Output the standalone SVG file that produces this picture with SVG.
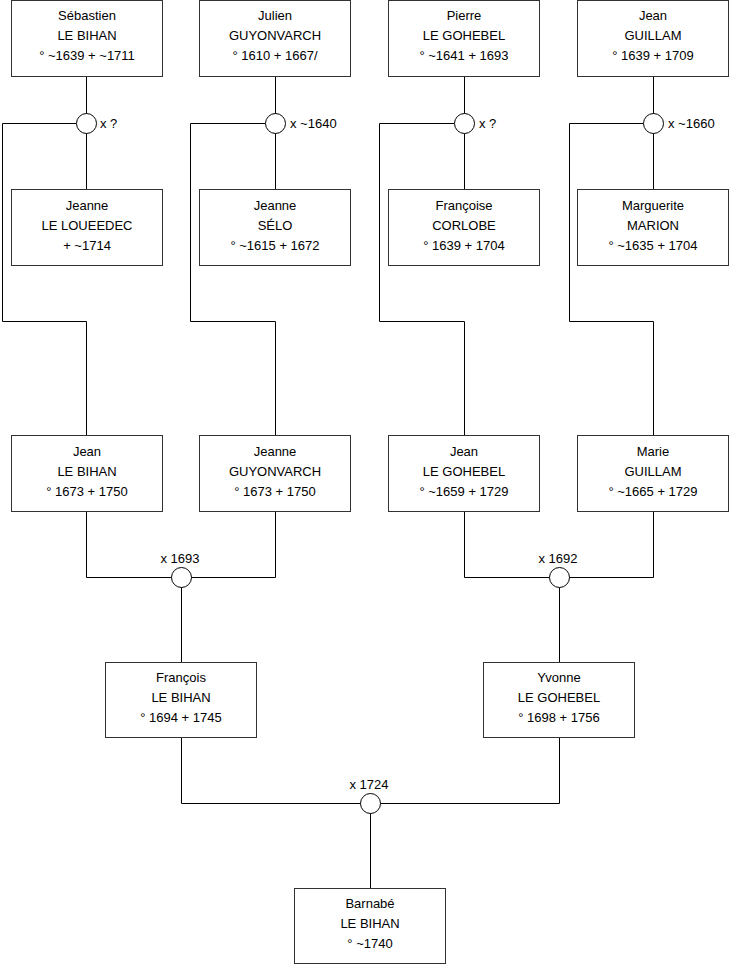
<svg xmlns="http://www.w3.org/2000/svg" width="740" height="975" viewBox="0 0 740 975">
<style>
.box{fill:#fff;stroke:#333;stroke-width:1}
.ln{fill:none;stroke:#000;stroke-width:1}
.ring{fill:#fff;stroke:#000;stroke-width:1}
text{font-family:"Liberation Sans",Arial,sans-serif;font-size:13px;fill:#000}
.c{text-anchor:middle}
</style>
<rect width="740" height="975" fill="#fff"/>
<g id="connectors">
<path class="ln" d="M86.5,76.5V189.5 M76.5,123.5H2.5V321.5H86.5V435.5"/>
<path class="ln" d="M275.5,76.5V189.5 M265.5,123.5H190.5V321.5H275.5V435.5"/>
<path class="ln" d="M464.5,76.5V189.5 M454.5,123.5H379.5V321.5H464.5V435.5"/>
<path class="ln" d="M653.5,76.5V189.5 M643.5,123.5H569.5V321.5H653.5V435.5"/>
<path class="ln" d="M86.5,511.5V577.5H275.5V511.5 M181.5,577.5V662.5"/>
<path class="ln" d="M464.5,511.5V577.5H653.5V511.5 M559.5,577.5V662.5"/>
<path class="ln" d="M181.5,737.5V803.5H559.5V737.5 M370.5,803.5V888.5"/>
<circle class="ring" cx="86.5" cy="123.5" r="10"/>
<circle class="ring" cx="275.5" cy="123.5" r="10"/>
<circle class="ring" cx="464.5" cy="123.5" r="10"/>
<circle class="ring" cx="653.5" cy="123.5" r="10"/>
<circle class="ring" cx="181.5" cy="577.5" r="10"/>
<circle class="ring" cx="559.5" cy="577.5" r="10"/>
<circle class="ring" cx="370.5" cy="803.5" r="10"/>
<text x="100" y="128">x ?</text>
<text x="290" y="128">x ~1640</text>
<text x="479" y="128">x ?</text>
<text x="668" y="128">x ~1660</text>
<text class="c" x="180" y="563">x 1693</text>
<text class="c" x="558" y="563">x 1692</text>
<text class="c" x="369" y="789">x 1724</text>
</g>
<g id="sebastien"><rect class="box" x="11.5" y="0.5" width="151" height="76"/>
<text class="c" x="87" y="20">Sébastien</text><text class="c" x="87" y="40">LE BIHAN</text><text class="c" x="87" y="60">° ~1639 + ~1711</text></g>
<g id="julien"><rect class="box" x="199.5" y="0.5" width="151" height="76"/>
<text class="c" x="275" y="20">Julien</text><text class="c" x="275" y="40">GUYONVARCH</text><text class="c" x="275" y="60">° 1610 + 1667/</text></g>
<g id="pierre"><rect class="box" x="388.5" y="0.5" width="151" height="76"/>
<text class="c" x="464" y="20">Pierre</text><text class="c" x="464" y="40">LE GOHEBEL</text><text class="c" x="464" y="60">° ~1641 + 1693</text></g>
<g id="jean-guillam"><rect class="box" x="577.5" y="0.5" width="151" height="76"/>
<text class="c" x="653" y="20">Jean</text><text class="c" x="653" y="40">GUILLAM</text><text class="c" x="653" y="60">° 1639 + 1709</text></g>
<g id="jeanne-loueedec"><rect class="box" x="11.5" y="189.5" width="151" height="76"/>
<text class="c" x="87" y="210">Jeanne</text><text class="c" x="87" y="230">LE LOUEEDEC</text><text class="c" x="87" y="250">+ ~1714</text></g>
<g id="jeanne-selo"><rect class="box" x="199.5" y="189.5" width="151" height="76"/>
<text class="c" x="275" y="210">Jeanne</text><text class="c" x="275" y="230">SÉLO</text><text class="c" x="275" y="250">° ~1615 + 1672</text></g>
<g id="francoise"><rect class="box" x="388.5" y="189.5" width="151" height="76"/>
<text class="c" x="464" y="210">Françoise</text><text class="c" x="464" y="230">CORLOBE</text><text class="c" x="464" y="250">° 1639 + 1704</text></g>
<g id="marguerite"><rect class="box" x="577.5" y="189.5" width="151" height="76"/>
<text class="c" x="653" y="210">Marguerite</text><text class="c" x="653" y="230">MARION</text><text class="c" x="653" y="250">° ~1635 + 1704</text></g>
<g id="jean-lebihan"><rect class="box" x="11.5" y="435.5" width="151" height="76"/>
<text class="c" x="87" y="456">Jean</text><text class="c" x="87" y="476">LE BIHAN</text><text class="c" x="87" y="496">° 1673 + 1750</text></g>
<g id="jeanne-guyonvarch"><rect class="box" x="199.5" y="435.5" width="151" height="76"/>
<text class="c" x="275" y="456">Jeanne</text><text class="c" x="275" y="476">GUYONVARCH</text><text class="c" x="275" y="496">° 1673 + 1750</text></g>
<g id="jean-gohebel"><rect class="box" x="388.5" y="435.5" width="151" height="76"/>
<text class="c" x="464" y="456">Jean</text><text class="c" x="464" y="476">LE GOHEBEL</text><text class="c" x="464" y="496">° ~1659 + 1729</text></g>
<g id="marie"><rect class="box" x="577.5" y="435.5" width="151" height="76"/>
<text class="c" x="653" y="456">Marie</text><text class="c" x="653" y="476">GUILLAM</text><text class="c" x="653" y="496">° ~1665 + 1729</text></g>
<g id="francois"><rect class="box" x="105.5" y="662.5" width="151" height="75"/>
<text class="c" x="181" y="682">François</text><text class="c" x="181" y="702">LE BIHAN</text><text class="c" x="181" y="722">° 1694 + 1745</text></g>
<g id="yvonne"><rect class="box" x="483.5" y="662.5" width="151" height="75"/>
<text class="c" x="559" y="682">Yvonne</text><text class="c" x="559" y="702">LE GOHEBEL</text><text class="c" x="559" y="722">° 1698 + 1756</text></g>
<g id="barnabe"><rect class="box" x="294.5" y="888.5" width="151" height="75"/>
<text class="c" x="370" y="908">Barnabé</text><text class="c" x="370" y="928">LE BIHAN</text><text class="c" x="370" y="948">° ~1740</text></g>
</svg>
